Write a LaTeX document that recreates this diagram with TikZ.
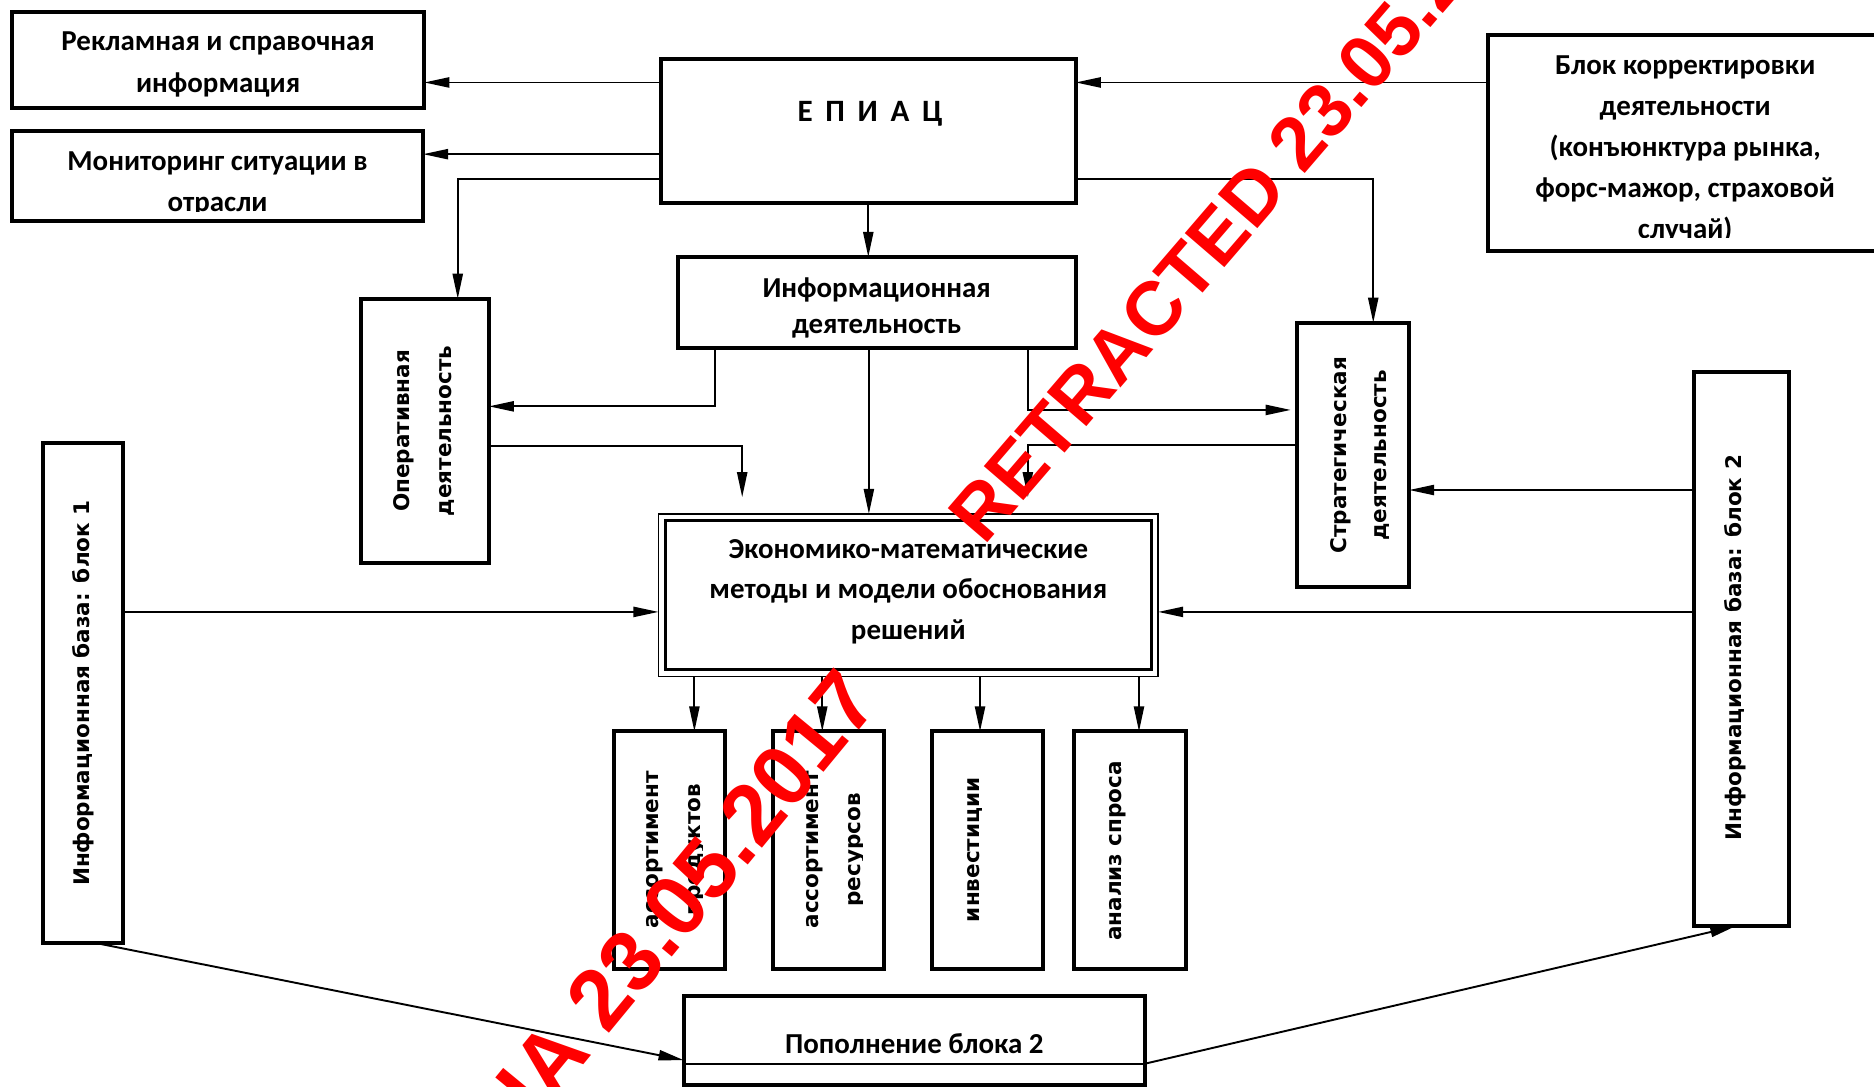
\documentclass[tikz,border=0pt]{standalone}
\usepackage{fontspec}
\newfontfamily\carl{Carlito}
\newfontfamily\dejab{DejaVu Sans}
\newfontfamily\libs{Liberation Sans}
\usetikzlibrary{arrows.meta,fit}
\begin{document}
\begin{tikzpicture}[x=1pt,y=-1pt,
  box/.style={draw, line width=3.3pt, inner sep=0pt, outer sep=0pt},
  conn/.style={line width=1.6pt, -{Stealth[length=21pt,width=8.5pt,inset=0pt]}},
  htxt/.style={font=\carl\bfseries\fontsize{24.2}{34.5}\selectfont, align=center, inner sep=0pt},
  vtxt/.style={font=\dejab\bfseries\fontsize{18}{35}\selectfont, align=center, inner sep=0pt, rotate=90},
  wmark/.style={font=\libs\bfseries\fontsize{63.5}{63.5}\selectfont, text=red, inner sep=0pt}
]
\useasboundingbox (0,0) rectangle (1568,909);

% boxes
\node[box, fit={(10,10) (355,90)}] (rek) {};
\node[box, fit={(10,110) (354,185)}] (mon) {};
\node[box, fit={(553,49) (900,170)}] (epiac) {};
\node[box, fit={(1245,29) (1575,210)}] (blk) {};
\node[box, fit={(567,215) (900,291)}] (infd) {};
\node[box, fit={(302,250) (409,471)}] (oper) {};
\node[box, fit={(1085,270) (1179,491)}] (strat) {};
\node[draw, line width=1.5pt, inner sep=0pt, outer sep=0pt, fit={(551,430) (969,566)}] (econ) {};
\node[draw, line width=2.4pt, inner sep=0pt, outer sep=0pt, fit={(556.5,435.5) (963.5,560.5)}] (econin) {};
\node[box, fit={(36,371) (103,789)}] (bA) {};
\node[box, fit={(1417,311) (1497,775)}] (bB) {};
\node[box, fit={(514,612) (607,811)}] (a1) {};
\node[box, fit={(647,612) (740,811)}] (a2) {};
\node[box, fit={(780,612) (873,811)}] (a3) {};
\node[box, fit={(899,612) (992,811)}] (a4) {};
\node[box, fit={(572,833) (958,908)}] (pop) {};
\draw[line width=1.8pt] ([yshift=-19.5pt]pop.west) -- ([yshift=-19.5pt]pop.east);

% texts
\node[htxt] (trek) at (182.5,54) {Рекламная и справочная\\информация};
\begin{scope}
\clip (11.4,111.4) rectangle (352.6,177);
\node[htxt] (tmon) at (182,154) {Мониторинг ситуации в\\отрасли};
\end{scope}
\node[htxt, font=\carl\bfseries\fontsize{26}{30}\selectfont, anchor=base] (tep) at (728,101.5)
  {Е\hspace{10.6pt}П\hspace{10.6pt}И\hspace{10.6pt}А\hspace{10.6pt}Ц};
\begin{scope}
\clip (1246.4,30.4) rectangle (1568,199);
\node[htxt] (tblk) at (1410,125) {Блок корректировки\\деятельности\\(конъюнктура рынка,\\форс-мажор, страховой\\случай)};
\end{scope}
\node[htxt, font=\carl\bfseries\fontsize{24.2}{30}\selectfont] (tinfd) at (733.5,258) {Информационная\\деятельность};
\node[htxt, font=\carl\bfseries\fontsize{24.2}{34}\selectfont] (tecon) at (760,495) {Экономико-математические\\методы и модели обоснования\\решений};
\node[htxt] (tpop) at (765,873) {Пополнение блока 2};

\node[vtxt] (toper) at (354.5,360.5) {Оперативная\\деятельность};
\node[vtxt, font=\dejab\bfseries\fontsize{18}{34}\selectfont] (tstrat) at (1138,381) {Стратегическая\\деятельность};
\node[vtxt] (tbA) at (70,580) {Информационная база: блок 1};
\node[vtxt] (tbB) at (1452,542) {Информационная база: блок 2};
\begin{scope}
\clip (515,613) rectangle (588,810);
\node[vtxt] (ta1) at (565.5,711) {ассортимент\\продуктов};
\end{scope}
\begin{scope}
\clip (648,613) rectangle (722,810);
\node[vtxt] (ta2) at (699.5,711) {ассортимент\\ресурсов};
\end{scope}
\node[vtxt] (ta3) at (816,711) {инвестиции};
\node[vtxt] (ta4) at (935.5,712) {анализ спроса};

% free ends
\coordinate (f1) at (621,416);
\coordinate (f2) at (860,416);

% connectors
\draw[conn] ([yshift=40.5pt]epiac.west) -- ([yshift=-19pt]rek.east);
\draw[conn] ([yshift=-19.5pt]epiac.west) -- ([yshift=18.5pt]mon.east);
\draw[conn] ([yshift=-40.5pt]epiac.west) -| ([xshift=27.5pt]oper.north);
\draw[conn] ([yshift=50.5pt]blk.west) -- ([yshift=40.5pt]epiac.east);
\draw[conn] ([yshift=-40.5pt]epiac.east) -| ([xshift=17pt]strat.north);
\draw[conn] (epiac.south) -- (epiac.south |- infd.north);
\draw[conn] ([xshift=-135.5pt]infd.south) |- ([yshift=20.5pt]oper.east);
\draw[conn] ([xshift=-6.5pt]infd.south) -- ([xshift=-33pt]econ.north);
\draw[conn] ([xshift=126.5pt]infd.south) |- ([xshift=-5pt,yshift=37.5pt]strat.west);
\draw[conn] ([yshift=-12.5pt]oper.east) -| (f1);
\draw[conn] ([yshift=8.5pt]strat.west) -| (f2);
\draw[conn] ([yshift=133pt]bB.west) -- ([yshift=-29.5pt]strat.east);
\draw[conn] ([yshift=68pt]bA.east) -- ([yshift=-14pt]econ.west);
\draw[conn] ([yshift=31pt]bB.west) -- ([yshift=-14pt]econ.east);
\draw[conn] ([xshift=-179pt]econ.south) -- ([xshift=20.5pt]a1.north);
\draw[conn] ([xshift=-72pt]econ.south) -- ([xshift=-5.5pt]a2.north);
\draw[conn] ([xshift=60pt]econ.south) -- ([xshift=-6.5pt]a3.north);
\draw[conn] ([xshift=193pt]econ.south) -- ([xshift=7.5pt]a4.north);
\draw[conn] ([xshift=10.5pt]bA.south) -- ([yshift=-16.5pt]pop.west);
\draw[conn] ([yshift=-19.5pt]pop.east) -- ([xshift=-5pt]bB.south);

% watermark
\node[wmark, rotate=49.3, anchor=base west] (wm1) at (824,457) {RETRACTED 23.05.2017};
\node[wmark, font=\libs\bfseries\fontsize{72}{72}\selectfont, rotate=50.5, anchor=base east] (wm2) at (738,588) {ОТОЗВАНА 23.05.2017};
\end{tikzpicture}
\end{document}
